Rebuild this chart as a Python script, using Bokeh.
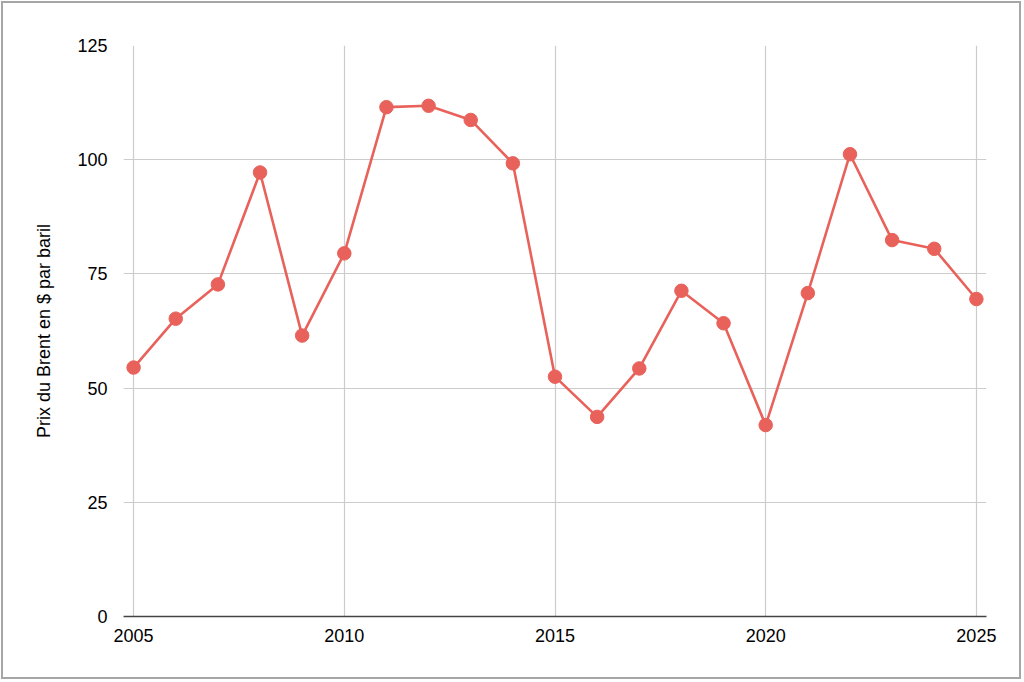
'''
Brent price per barrel, yearly, drawn with Bokeh.
'''
from bokeh.plotting import figure
from bokeh.models import Range1d, FixedTicker
from bokeh.embed import file_html
from bokeh.resources import INLINE

# data
years = list(range(2005, 2026))
prix = [54.5, 65.2, 72.7, 97.2, 61.5, 79.5, 111.5, 111.8, 108.7, 99.2,
	52.5, 43.7, 54.3, 71.3, 64.2, 41.9, 70.8, 101.2, 82.4, 80.5, 69.5]
x_ticks = [2005, 2010, 2015, 2020, 2025]
y_ticks = [0, 25, 50, 75, 100, 125]
y_label = 'Prix du Brent en $ par baril'

red = '#e8625b'
grid = '#cccccc'
font = 'Liberation Sans'

p = figure(
	width=1020, height=678,
	output_backend='svg', toolbar_location=None,
	x_range=Range1d(2004.76, 2025.24), y_range=Range1d(0, 125),
	min_border_left=120, min_border_right=37,
	min_border_top=42, min_border_bottom=65,
)
p.styles = {'border': '2px solid #a6a6a6', 'margin': '1px'}
p.outline_line_color = None

# line + points
p.line(years, prix, line_color=red, line_width=2.6)
p.scatter(years, prix, size=13.5, fill_color=red, line_color=red)

# grid
p.xgrid.ticker = FixedTicker(ticks=x_ticks)
p.ygrid.ticker = FixedTicker(ticks=y_ticks)
p.xgrid.grid_line_color = grid
p.ygrid.grid_line_color = grid
p.xgrid.grid_line_width = 1.2
p.ygrid.grid_line_width = 1.2

# x axis
p.xaxis.ticker = FixedTicker(ticks=x_ticks)
p.xaxis.axis_line_color = '#444444'
p.xaxis.axis_line_width = 1.5
p.xaxis.major_tick_line_color = None
p.xaxis.minor_tick_line_color = None
p.xaxis.major_label_standoff = 6
p.xaxis.major_label_text_font = font
p.xaxis.major_label_text_font_size = '18px'
p.xaxis.major_label_text_color = '#000000'

# y axis
p.yaxis.ticker = FixedTicker(ticks=y_ticks)
p.yaxis.axis_line_color = None
p.yaxis.major_tick_line_color = None
p.yaxis.minor_tick_line_color = None
p.yaxis.major_label_standoff = 10
p.yaxis.major_label_text_font = font
p.yaxis.major_label_text_font_size = '18px'
p.yaxis.major_label_text_color = '#000000'
p.yaxis.axis_label = y_label
p.yaxis.axis_label_text_font = font
p.yaxis.axis_label_text_font_size = '18px'
p.yaxis.axis_label_text_font_style = 'normal'
p.yaxis.axis_label_text_color = '#000000'
p.yaxis.axis_label_standoff = 20

open('out.html', 'w').write(file_html(p, INLINE))
